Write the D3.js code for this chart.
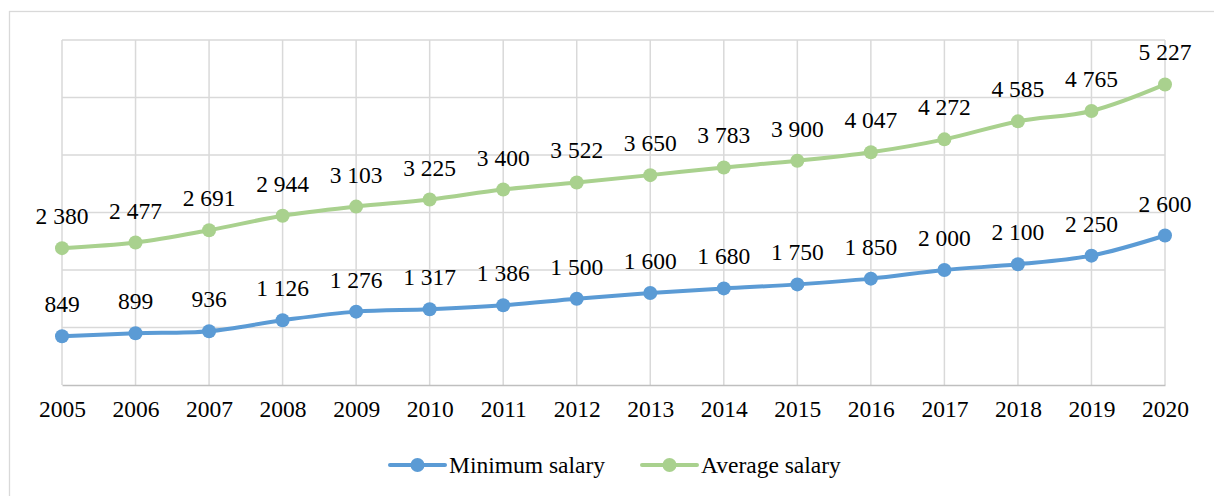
<!DOCTYPE html>
<html>
<head>
<meta charset="utf-8">
<script src="https://cdn.jsdelivr.net/npm/d3@7"></script>
<style>
  body { margin: 0; background: #fff; }
  svg text { font-family: "Liberation Serif", "Times New Roman", serif; }
</style>
</head>
<body>
<div id="chart"></div>
<script>
const years = ["2005","2006","2007","2008","2009","2010","2011","2012","2013","2014","2015","2016","2017","2018","2019","2020"];
const minSalary = [849, 899, 936, 1126, 1276, 1317, 1386, 1500, 1600, 1680, 1750, 1850, 2000, 2100, 2250, 2600];
const avgSalary = [2380, 2477, 2691, 2944, 3103, 3225, 3400, 3522, 3650, 3783, 3900, 4047, 4272, 4585, 4765, 5227];
const yTicks = [0, 1000, 2000, 3000, 4000, 5000, 6000];
const seriesNames = ["Minimum salary", "Average salary"];
const colors = ["#5b9bd5", "#a9d18e"];

const width = 1214, height = 496;
const margin = {top: 40, right: 49, bottom: 111, left: 62};
const serif = "Liberation Serif, Times New Roman, serif";
const fontSize = 23.5;

const svg = d3.select("#chart").append("svg")
    .attr("width", width)
    .attr("height", height);

// outer chart border
svg.append("rect")
    .attr("x", 9.5).attr("y", 11.5)
    .attr("width", 1230).attr("height", 500)
    .attr("fill", "none")
    .attr("stroke", "#d9d9d9")
    .attr("stroke-width", 1.3);

let x = d3.scalePoint()
    .domain(years)
    .range([margin.left, width - margin.right]);

let y = d3.scaleLinear()
    .domain([0, 6000])
    .range([height - margin.bottom, margin.top]);

// horizontal gridlines
svg.append("g").selectAll("line")
    .data(yTicks.slice(1))
    .join("line")
    .attr("x1", margin.left).attr("x2", width - margin.right)
    .attr("y1", d => y(d)).attr("y2", d => y(d))
    .attr("stroke", "#d9d9d9")
    .attr("stroke-width", 1.5);

// vertical gridlines
svg.append("g").selectAll("line")
    .data(years)
    .join("line")
    .attr("x1", d => x(d)).attr("x2", d => x(d))
    .attr("y1", y(6000)).attr("y2", y(0))
    .attr("stroke", "#d9d9d9")
    .attr("stroke-width", 1.5);

// x axis
let xAxis = svg.append("g")
    .attr("transform", `translate(0, ${y(0)})`)
    .call(d3.axisBottom(x).tickSize(0).tickPadding(15));
xAxis.attr("font-family", serif).attr("font-size", fontSize);
xAxis.select(".domain").attr("stroke", "#bfbfbf").attr("stroke-width", 1.5);
xAxis.selectAll("text")
    .attr("fill", "#000")
    .style("font-family", serif)
    .style("font-size", fontSize + "px");

const fmt = v => {
    let s = String(v);
    return s.length > 3 ? s.slice(0, s.length - 3) + " " + s.slice(-3) : s;
};

const line = d3.line()
    .x((d, i) => x(years[i]))
    .y(d => y(d))
    .curve(d3.curveCatmullRom.alpha(0.5));

[minSalary, avgSalary].forEach((vals, k) => {
    svg.append("path")
        .datum(vals)
        .attr("d", line)
        .attr("fill", "none")
        .attr("stroke", colors[k])
        .attr("stroke-width", 4)
        .attr("stroke-linecap", "round");

    svg.append("g").selectAll("circle")
        .data(vals)
        .join("circle")
        .attr("cx", (d, i) => x(years[i]))
        .attr("cy", d => y(d))
        .attr("r", 7)
        .attr("fill", colors[k]);

    svg.append("g").selectAll("text")
        .data(vals)
        .join("text")
        .attr("x", (d, i) => x(years[i]))
        .attr("y", d => y(d) - 24)
        .attr("text-anchor", "middle")
        .style("font-family", serif)
        .style("font-size", fontSize + "px")
        .attr("fill", "#000")
        .text(d => fmt(d));
});

// legend
const legendX = [390, 642];
const legend = svg.append("g").attr("transform", "translate(0, 465)");
seriesNames.forEach((name, k) => {
    let g = legend.append("g").attr("transform", `translate(${legendX[k]}, 0)`);
    g.append("line")
        .attr("x1", 0).attr("x2", 55)
        .attr("stroke", colors[k])
        .attr("stroke-width", 4)
        .attr("stroke-linecap", "round");
    g.append("circle")
        .attr("cx", 27.5).attr("r", 7)
        .attr("fill", colors[k]);
    g.append("text")
        .attr("x", 59)
        .attr("y", 7.5)
        .style("font-family", serif)
        .style("font-size", fontSize + "px")
        .attr("fill", "#000")
        .text(name);
});
</script>
</body>
</html>
